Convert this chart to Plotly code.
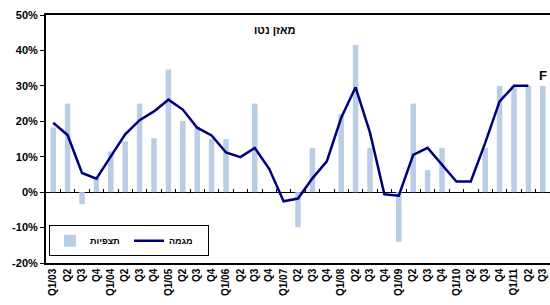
import plotly.graph_objects as go

quarters = ["Q1/03", "Q2", "Q3", "Q4", "Q1/04", "Q2", "Q3", "Q4",
            "Q1/05", "Q2", "Q3", "Q4", "Q1/06", "Q2", "Q3", "Q4",
            "Q1/07", "Q2", "Q3", "Q4", "Q1/08", "Q2", "Q3", "Q4",
            "Q1/09", "Q2", "Q3", "Q4", "Q1/10", "Q2", "Q3", "Q4",
            "Q1/11", "Q2", "Q3"]

observations = [18.2, 25.0, -3.4, 4.0, 11.5, 14.3, 25.0, 15.2,
                34.6, 20.1, 18.5, 15.0, 15.0, None, 25.0, None,
                None, -9.9, 12.5, None, 22.0, 41.5, 12.5, None,
                -14.0, 25.0, 6.2, 12.5, None, None, 12.5, 30.0,
                30.0, 30.0, 30.0]

trend = [19.6, 16.1, 5.4, 3.8, 10.1, 16.3, 20.3, 22.8,
         26.1, 23.3, 18.2, 16.0, 11.2, 9.9, 12.5, 6.6,
         -2.6, -1.8, 3.9, 8.7, 21.0, 29.6, 16.8, -0.6,
         -1.0, 10.5, 12.5, 7.7, 3.0, 3.0, 13.9, 25.6,
         30.0, 30.0, None]

y_ticks = [-20, -10, 0, 10, 20, 30, 40, 50]
y_min, y_max = -20, 50

idx = list(range(len(quarters)))
font_family = "Liberation Sans, Arial, sans-serif"

fig = go.Figure()
fig.add_trace(go.Bar(x=idx, y=observations, name="תצפיות",
                     marker=dict(color="#b9cde5", line=dict(width=0)),
                     width=0.38))
fig.add_trace(go.Scatter(x=idx, y=trend, name="מגמה", mode="lines",
                         line=dict(color="#00007f", width=2.5)))
# invisible trace for zero-line tick axis
fig.add_trace(go.Scatter(x=idx, y=[0] * len(idx), xaxis="x2", mode="none",
                         showlegend=False, hoverinfo="skip"))

zero_pos = (0 - y_min) / (y_max - y_min)

fig.update_layout(
    width=550, height=305,
    margin=dict(l=46, r=0, t=15, b=42),
    paper_bgcolor="white", plot_bgcolor="white",
    font=dict(family=font_family, size=11, color="black"),
    showlegend=True,
    bargap=0.6,
    legend=dict(orientation="h", x=0.006, y=0.152, xanchor="left", yanchor="top",
                bgcolor="white", bordercolor="black", borderwidth=1,
                font=dict(size=9, family=font_family, weight="bold"),
                itemwidth=30, tracegroupgap=0, entrywidth=34, entrywidthmode="pixels"),
    xaxis=dict(range=[-0.5, len(idx) - 0.5], tickmode="array", tickvals=idx,
               ticktext=quarters, tickangle=-90, showgrid=False, zeroline=False,
               showline=True, linecolor="black", linewidth=1.5, mirror=True,
               ticks="", tickfont=dict(size=10, weight="bold"), automargin=False),
    xaxis2=dict(range=[-0.5, len(idx) - 0.5], overlaying="x", anchor="free",
                position=zero_pos, tickmode="linear", tick0=-0.5, dtick=1,
                ticks="inside", ticklen=3, tickcolor="black", showticklabels=False,
                showgrid=False, zeroline=False, showline=False, automargin=False),
    yaxis=dict(range=[y_min, y_max], tickvals=y_ticks,
               ticktext=[f"{v}%" for v in y_ticks], showgrid=False,
               zeroline=True, zerolinecolor="black", zerolinewidth=1,
               showline=True, linecolor="black", linewidth=2,
               ticks="outside", ticklen=4, tickcolor="black",
               tickfont=dict(size=11, weight="bold"), automargin=False),
    annotations=[
        dict(text="מאזן נטו", xref="paper", yref="paper", x=0.454, y=0.94,
             xanchor="center", yanchor="middle",
             showarrow=False, font=dict(size=11, weight="bold")),
        dict(text="F", x=idx[-1], y=observations[-1], xref="x", yref="y",
             yanchor="bottom", yshift=1, showarrow=False,
             font=dict(size=13, weight="bold")),
    ],
)

fig.write_html("out.html", config={"displayModeBar": False},
               post_script="document.body.style.margin='0';")
